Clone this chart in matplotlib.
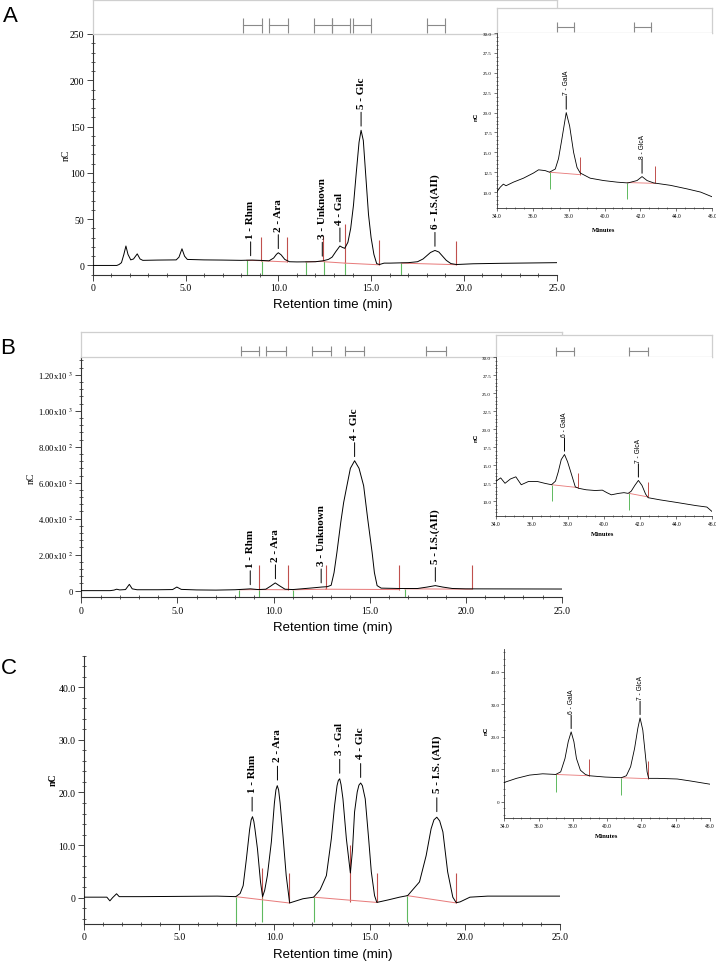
import matplotlib
matplotlib.use('Agg')
import matplotlib.pyplot as plt
from matplotlib.ticker import MultipleLocator, FixedLocator, FixedFormatter

# ------------------------------------------------------------------ DATA
X_TICKS = [0, 5, 10, 15, 20, 25]
X_LABELS = ['0', '5.0', '10.0', '15.0', '20.0', '25.0']
INSET_X_TICKS = [34, 36, 38, 40, 42, 44, 46]
INSET_X_LABELS = ['34.0', '36.0', '38.0', '40.0', '42.0', '44.0', '46.0']

# ---- Panel A main
A_t = [0, 1.3, 1.42, 1.55, 1.68, 1.79, 1.9, 2.05, 2.2, 2.4, 2.55, 2.7, 3.5, 4.5, 4.65, 4.81, 4.95,
       5.1, 6.0, 7.0, 8.0, 8.6, 9.0, 9.5, 9.75, 9.9, 10.0, 10.15, 10.35, 10.6, 11.0, 12.0, 12.4,
       12.7, 12.9, 13.1, 13.32, 13.45, 13.58, 13.75, 13.9, 14.05, 14.2, 14.35, 14.46, 14.58, 14.72,
       14.86, 15.0, 15.15, 15.3, 15.45, 15.7, 16.0, 17.0, 17.5, 17.8, 18.0, 18.2, 18.44, 18.65,
       18.85, 19.05, 19.3, 19.6, 20.5, 22.0, 25.0]
A_y = [0, 0, 1, 3, 12, 21, 12, 6, 7, 12.5, 7, 5.5, 5.8, 6, 9, 18, 10,
       6.5, 6, 5.8, 5.5, 5.8, 5.5, 5, 8, 12, 13.7, 11.5, 6.5, 4, 3.8, 4, 5,
       6.5, 9, 15, 21, 19.5, 18.5, 25, 40, 65, 100, 133, 146, 135, 95,
       55, 30, 12, 2, 1, 2.5, 2.5, 3, 4, 7, 10.5, 14, 16.2, 14.5,
       10, 5.5, 2, 1, 1.8, 2.3, 3]
A_yticks = [0, 50, 100, 150, 200, 250]
A_ylabels = ['0', '50', '100', '150', '200', '250']
A_green_t = [8.30, 9.10, 11.48, 12.46, 13.61, 16.63]
A_green_hi = [5.5, 5.0, 3.8, 4.5, 2.5, 2.5]
A_red_t = [9.07, 10.49, 12.39, 13.59, 15.43, 19.59]
A_red_lo = [5.2, 3.8, 4.5, 2.5, 0.7, 0.8]
A_red_hi = [30.6, 30.6, 32.0, 44.6, 27.0, 26.0]
A_base = [(8.30, 5.5, 9.07, 5.2), (9.10, 5.0, 10.49, 3.8), (11.48, 3.8, 12.39, 4.5),
          (12.46, 4.0, 13.60, 2.5), (13.60, 2.5, 15.43, 0.7), (16.63, 2.5, 19.59, 0.8)]
A_lab_t = [8.51, 10.0, 12.37, 13.32, 14.46, 18.44]
A_lab_y = [6, 13.7, 5.5, 21, 146, 16.2]
A_lab = ['1 - Rhm', '2 - Ara', '3 - Unknown', '4 - Gal', '5 - Glc', '6 - I.S.(AII)']
A_br_s = [8.1, 9.5, 11.9, 12.9, 14.0, 18.0]
A_br_e = [9.1, 10.5, 12.9, 13.85, 15.0, 19.0]

# ---- Panel A inset
AI_t = [34.0, 34.19, 34.37, 34.52, 34.93, 35.49, 36.05, 36.33, 36.7, 36.94, 37.26, 37.44, 37.63,
        37.87, 38.06, 38.28, 38.47, 38.65, 39.2, 39.95, 40.7, 41.3, 41.81, 42.09, 42.37, 42.74,
        43.67, 44.6, 45.35, 46.0]
AI_y = [10.0, 10.6, 11.0, 10.8, 11.25, 11.75, 12.4, 12.8, 12.7, 12.5, 12.9, 14.2, 16.7,
        20.0, 18.3, 15.0, 13.1, 12.4, 11.75, 11.45, 11.25, 11.15, 11.45, 11.95, 11.45, 11.15,
        10.85, 10.4, 10.0, 9.4]
AI_green_t = [36.94, 41.27]
AI_green_lo = [10.33, 9.17]
AI_green_hi = [12.5, 11.15]
AI_red_t = [38.61, 42.8]
AI_red_lo = [12.2, 11.1]
AI_red_hi = [14.45, 13.3]
AI_base = [(36.94, 12.5, 38.61, 12.2), (41.27, 11.2, 42.8, 11.1)]
AI_lab_t = [37.87, 42.09]
AI_lab_y = [20.0, 11.95]
AI_lab = ['7 - GalA', '8 - GlcA']
AI_br_s = [37.35, 41.63]
AI_br_e = [38.33, 42.61]
AB_yticks = [10, 12.5, 15, 17.5, 20, 22.5, 25, 27.5, 30]
AB_ylabels = ['10.0', '12.5', '15.0', '17.5', '20.0', '22.5', '25.0', '27.5', '30.0']

# ---- Panel B main
B_t = [0, 1.5, 1.7, 1.84, 2.0, 2.3, 2.5, 2.65, 2.9, 4.0, 4.75, 4.97, 5.2, 6.0, 7.0, 8.0, 8.5,
       8.8, 9.2, 9.6, 9.85, 10.09, 10.3, 10.6, 11.0, 12.0, 12.5, 12.8, 13.0, 13.15, 13.3, 13.5,
       13.65, 13.82, 14.0, 14.22, 14.45, 14.69, 14.9, 15.13, 15.25, 15.39, 15.6, 16.5, 17.5,
       18.0, 18.42, 18.8, 19.3, 20.0, 25.0]
B_y = [0, 0, 3, 8, 4, 6, 35, 10, 5, 5, 6, 20, 7, 4, 3, 5, 8,
       10, 6, 8, 25, 43, 28, 8, 6, 15, 20, 22, 30, 100, 213, 380,
       490, 583, 680, 722, 680, 583, 400, 213, 100, 28, 14, 12, 12,
       20, 28, 20, 12, 10, 9]
B_yticks = [0, 200, 400, 600, 800, 1000, 1200]
B_ylabels = ['0', r'2.00x10 $^{2}$', r'4.00x10 $^{2}$', r'6.00x10 $^{2}$', r'8.00x10 $^{2}$',
             r'1.00x10 $^{3}$', r'1.20x10 $^{3}$']
B_green_t = [8.23, 9.27, 10.99, 16.82]
B_green_hi = [5, 6, 5, 10]
B_red_t = [9.27, 10.78, 12.71, 16.53, 20.33]
B_red_lo = [6, 5, 8, 6, 8]
B_red_hi = [140, 140, 145, 140, 140]
B_base = [(8.23, 5, 9.27, 6), (9.27, 6, 10.78, 5), (10.99, 5, 12.71, 8),
          (12.71, 8, 16.53, 6), (16.82, 10, 20.33, 8)]
B_lab_t = [8.79, 10.1, 12.48, 14.22, 18.42]
B_lab_y = [10, 43, 20, 722, 28]
B_lab = ['1 - Rhm', '2 - Ara', '3 - Unknown', '4 - Glc', '5 - I.S.(AII)']
B_br_s = [8.30, 9.60, 12.0, 13.7, 17.94]
B_br_e = [9.27, 10.65, 13.0, 14.72, 18.98]

# ---- Panel B inset
BI_t = [34.0, 34.26, 34.5, 34.8, 35.1, 35.4, 35.8, 36.3, 36.7, 37.08, 37.3, 37.45, 37.62, 37.8,
        37.97, 38.15, 38.4, 38.6, 39.0, 39.5, 39.9, 40.15, 40.4, 40.8, 41.1, 41.33, 41.5, 41.7,
        41.9, 42.1, 42.3, 42.44, 43.1, 44.0, 45.1, 45.7, 46.0]
BI_y = [12.8, 13.25, 12.5, 13.1, 13.4, 12.3, 12.75, 12.75, 12.5, 12.3, 12.8, 14.05, 15.8, 16.5,
        15.5, 14.05, 12.0, 11.8, 11.6, 11.5, 11.55, 11.2, 10.9, 11.1, 11.2, 11.1, 11.4, 12.2,
        12.9, 12.2, 11.0, 10.5, 10.2, 9.85, 9.4, 9.2, 8.55]
BI_green_t = [37.09, 41.39]
BI_green_lo = [10.1, 8.8]
BI_green_hi = [12.3, 11.1]
BI_red_t = [38.57, 42.45]
BI_red_lo = [11.9, 10.6]
BI_red_hi = [14.0, 12.65]
BI_base = [(37.09, 12.3, 38.57, 11.9), (41.39, 11.1, 42.45, 10.6)]
BI_lab_t = [37.8, 41.9]
BI_lab_y = [16.5, 12.9]
BI_lab = ['6 - GalA', '7 - GlcA']
BI_br_s = [37.31, 41.39]
BI_br_e = [38.34, 42.41]

# ---- Panel C main
C_t = [0, 1.2, 1.36, 1.5, 1.71, 1.85, 3.0, 5.0, 7.0, 7.97, 8.2, 8.36, 8.53, 8.7, 8.78, 8.85,
       8.92, 8.98, 9.11, 9.27, 9.38, 9.49, 9.63, 9.84, 10.0, 10.08, 10.15, 10.22, 10.3, 10.45,
       10.62, 10.8, 11.5, 12.06, 12.4, 12.73, 12.99, 13.16, 13.29, 13.36, 13.43, 13.5, 13.6,
       13.78, 13.99, 14.1, 14.21, 14.35, 14.44, 14.53, 14.62, 14.77, 14.95, 15.09, 15.26, 15.38,
       16.0, 16.57, 17.0, 17.62, 17.97, 18.23, 18.38, 18.53, 18.68, 18.85, 19.1, 19.37, 19.55,
       19.75, 20.27, 21.2, 25.0]
C_y = [0.1, 0.1, -0.6, 0.0, 0.75, 0.2, 0.2, 0.25, 0.3, 0.2, 0.8, 2.3, 7.4, 13.0, 14.8, 15.4,
       14.5, 13.0, 9.3, 3.0, 0.2, 1.4, 4.2, 10.6, 18.0, 20.5, 21.3, 20.5, 18.0, 11.8,
       4.2, -1.0, -0.2, 0.1, 1.5, 4.2, 11.2, 17.5, 21.3, 22.3, 22.6, 21.5, 18.8,
       11.2, 4.7, 9.0, 16.3, 20.1, 21.4, 21.8, 21.3, 18.8, 11.2, 4.9, 0.4, -0.9,
       -0.4, 0.1, 0.4, 3.0, 8.0, 13.1, 14.8, 15.3, 14.6, 12.5, 4.9, 0.1, -0.95,
       -0.8, 0.1, 0.3, 0.3]
C_yticks = [0, 10, 20, 30, 40]
C_ylabels = ['0', '10.0', '20.0', '30.0', '40.0']
C_green_t = [7.97, 9.37, 12.06, 16.96]
C_green_hi = [0.2, 0.1, 0.1, 0.4]
C_red_t = [9.36, 10.77, 13.95, 15.38, 19.55]
C_red_lo = [0.0, -1.0, -0.8, -0.9, -1.0]
C_red_hi = [5.6, 4.6, 10.1, 4.7, 4.6]
C_base = [(7.97, 0.2, 10.77, -1.0), (12.06, 0.1, 15.38, -0.9), (16.96, 0.4, 19.55, -1.0)]
C_lab_t = [8.83, 10.16, 13.43, 14.53, 18.53]
C_lab_y = [15.4, 21.3, 22.6, 21.8, 15.3]
C_lab = ['1 - Rhm', '2 - Ara', '3 - Gal', '4 - Glc', '5 - I.S. (AII)']

# ---- Panel C inset
CI_t = [34.0, 34.71, 35.47, 36.24, 37.0, 37.29, 37.54, 37.73, 37.9, 38.06, 38.21, 38.44, 38.73,
        38.96, 39.88, 40.83, 41.12, 41.37, 41.6, 41.79, 41.92, 42.08, 42.21, 42.33, 42.42, 42.94,
        44.09, 44.85, 46.0]
CI_y = [5.95, 7.2, 8.2, 8.6, 8.4, 9.2, 13.3, 18.5, 21.5, 18.5, 13.3, 9.7, 8.4,
        8.0, 7.6, 7.4, 8.0, 10.8, 16.4, 22.6, 25.8, 22.05, 15.4, 9.2, 7.2, 7.2,
        7.0, 6.4, 5.4]
CI_green_t = [37.0, 40.83]
CI_green_lo = [2.9, 2.05]
CI_green_hi = [8.4, 7.4]
CI_red_t = [38.96, 42.4]
CI_red_lo = [8.0, 7.1]
CI_red_hi = [13.3, 12.6]
CI_base = [(37.0, 8.4, 38.96, 8.0), (40.83, 7.4, 42.4, 7.1)]
CI_lab_t = [37.9, 41.92]
CI_lab_y = [21.5, 25.8]
CI_lab = ['6 - GalA', '7 - GlcA']
CI_yticks = [0, 10, 20, 30, 40]
CI_ylabels = ['0', '10.0', '20.0', '30.0', '40.0']

# ------------------------------------------------------------------ STYLE
W, H = 716, 962
SERIF = ['Liberation Serif', 'DejaVu Serif']
SANS = ['Liberation Sans', 'DejaVu Sans']
GREEN = '#5fb95f'
RED = '#c0504d'
PINK = '#e87c7c'
BOXC = '#cfcfcf'
BRC = '#8a8a8a'
plt.rcParams['mathtext.fontset'] = 'stix'
plt.rcParams['font.family'] = SERIF

fig = plt.figure(figsize=(7.16, 9.62), dpi=100)


def rect(x0, y0, x1, y1):
    return [x0 / W, 1 - y1 / H, (x1 - x0) / W, (y1 - y0) / H]


def style_axes(ax, xlim, ylim, xt, xl, xminor, yt, yl, yminor, fs, big=True, yfs=None):
    ax.set_xlim(*xlim)
    ax.set_ylim(*ylim)
    ax.xaxis.set_major_locator(FixedLocator(xt))
    ax.xaxis.set_major_formatter(FixedFormatter(xl))
    ax.xaxis.set_minor_locator(MultipleLocator(xminor))
    ax.yaxis.set_major_locator(FixedLocator(yt))
    ax.yaxis.set_major_formatter(FixedFormatter(yl))
    ax.yaxis.set_minor_locator(MultipleLocator(yminor))
    for s in ('top', 'right'):
        ax.spines[s].set_visible(False)
    lw = 0.8 if big else 0.6
    for s in ('left', 'bottom'):
        ax.spines[s].set_linewidth(lw)
        ax.spines[s].set_color('#333333')
    L = 4 if big else 2.5
    ax.tick_params(which='major', direction='out', length=L, width=lw * 0.8, labelsize=fs,
                   pad=2 if big else 1, colors='#333333')
    if yfs is not None:
        ax.tick_params(axis='y', which='major', labelsize=yfs)
    ax.tick_params(which='minor', direction='inout', length=L * 0.6, width=lw * 0.7,
                   colors='#333333')
    for lab in ax.get_xticklabels() + ax.get_yticklabels():
        lab.set_family(SERIF)
        lab.set_color('black')


def draw_trace(ax, t, y, lw=0.7):
    ax.plot(t, y, color='black', lw=lw, zorder=3)


def draw_marks(ax, gt, glo, ghi, rt, rlo, rhi, base, lw=0.8):
    ax.vlines(gt, glo, ghi, colors=GREEN, lw=lw, zorder=2)
    ax.vlines(rt, rlo, rhi, colors=RED, lw=lw, zorder=2)
    for x0, y0, x1, y1 in base:
        ax.plot([x0, x1], [y0, y1], color=PINK, lw=lw * 0.9, zorder=2)


def draw_labels(ax, ts, ys, names, fs, fam, weight, l0, l1, toff):
    for t, y, s in zip(ts, ys, names):
        ax.annotate('', xy=(t, y), xytext=(0, l1), textcoords='offset points',
                    arrowprops=dict(arrowstyle='-', lw=0.7, color='black',
                                    shrinkA=0, shrinkB=l0))
        ax.annotate(s, xy=(t, y), xytext=(0, toff), textcoords='offset points',
                    rotation=90, ha='center', va='bottom', fontsize=fs,
                    family=fam, weight=weight, color='black')


def bracket_box(r, xlim, starts, ends):
    bx = fig.add_axes(r)
    bx.set_xlim(*xlim)
    bx.set_ylim(0, 1)
    bx.set_xticks([])
    bx.set_yticks([])
    for s in bx.spines.values():
        s.set_color(BOXC)
        s.set_linewidth(0.9)
    for s, e in zip(starts, ends):
        bx.plot([s, e], [0.26, 0.26], color=BRC, lw=0.8)
        bx.vlines([s, e], 0.04, 0.46, colors=BRC, lw=0.8)
    return bx


# ------------------------------------------------------------------ PANEL A
axA = fig.add_axes(rect(92.7, 35, 556.7, 275.7))
style_axes(axA, (0, 25), (-10, 250), X_TICKS, X_LABELS, 1, A_yticks, A_ylabels, 10, 7)
draw_trace(axA, A_t, A_y)
draw_marks(axA, A_green_t, -10, A_green_hi, A_red_t, A_red_lo, A_red_hi, A_base)
draw_labels(axA, A_lab_t, A_lab_y, A_lab, 8, SERIF, 'bold', 3, 13, 16)
bracket_box(rect(92.7, 0.5, 556.7, 35), (0, 25), A_br_s, A_br_e)

bAI = bracket_box(rect(496.7, 9.3, 712.3, 34), (34, 46), AI_br_s, AI_br_e)
bAI.set_facecolor('white')
axAI = fig.add_axes(rect(496.7, 34, 712.3, 209))
style_axes(axAI, (34, 46), (8.0, 30.0), INSET_X_TICKS, INSET_X_LABELS, 0.5,
           AB_yticks, AB_ylabels, 0.5, 4.0, big=False, yfs=3.6)
draw_trace(axAI, AI_t, AI_y, lw=0.6)
draw_marks(axAI, AI_green_t, AI_green_lo, AI_green_hi, AI_red_t, AI_red_lo, AI_red_hi,
           AI_base, lw=0.7)
draw_labels(axAI, AI_lab_t, AI_lab_y, AI_lab, 4.8, SANS, 'normal', 2.4, 12, 13.5)

# ------------------------------------------------------------------ PANEL B
axB = fig.add_axes(rect(81.3, 358.3, 561.8, 598.3))
style_axes(axB, (0, 25), (-37, 1297), X_TICKS, X_LABELS, 1, B_yticks, B_ylabels, 40, 7,
           yfs=6.2)
draw_trace(axB, B_t, B_y)
draw_marks(axB, B_green_t, -37, B_green_hi, B_red_t, B_red_lo, B_red_hi, B_base)
draw_labels(axB, B_lab_t, B_lab_y, B_lab, 8, SERIF, 'bold', 3, 13, 16)
bracket_box(rect(81.3, 333.3, 561.8, 358.3), (0, 25), B_br_s, B_br_e)

bBI = bracket_box(rect(496, 335.7, 712.3, 358.3), (34, 46), BI_br_s, BI_br_e)
bBI.set_facecolor('white')
axBI = fig.add_axes(rect(496, 358.3, 712.3, 516.7))
style_axes(axBI, (34, 46), (8.0, 30.0), INSET_X_TICKS, INSET_X_LABELS, 0.5,
           AB_yticks, AB_ylabels, 0.5, 4.0, big=False, yfs=3.6)
draw_trace(axBI, BI_t, BI_y, lw=0.6)
draw_marks(axBI, BI_green_t, BI_green_lo, BI_green_hi, BI_red_t, BI_red_lo, BI_red_hi,
           BI_base, lw=0.7)
draw_labels(axBI, BI_lab_t, BI_lab_y, BI_lab, 4.8, SANS, 'normal', 2.4, 12, 13.5)

# ------------------------------------------------------------------ PANEL C
axC = fig.add_axes(rect(84, 656.7, 560, 925))
style_axes(axC, (0, 25), (-5, 46), X_TICKS, X_LABELS, 1, C_yticks, C_ylabels, 2, 7)
draw_trace(axC, C_t, C_y)
draw_marks(axC, C_green_t, -4.7, C_green_hi, C_red_t, C_red_lo, C_red_hi, C_base)
draw_labels(axC, C_lab_t, C_lab_y, C_lab, 8, SERIF, 'bold', 4, 14, 18)

axCI = fig.add_axes(rect(504.3, 650, 710, 819))
style_axes(axCI, (34, 46), (-5, 47), INSET_X_TICKS, INSET_X_LABELS, 0.5,
           CI_yticks, CI_ylabels, 2, 4.0, big=False, yfs=3.6)
draw_trace(axCI, CI_t, CI_y, lw=0.6)
draw_marks(axCI, CI_green_t, CI_green_lo, CI_green_hi, CI_red_t, CI_red_lo, CI_red_hi,
           CI_base, lw=0.7)
draw_labels(axCI, CI_lab_t, CI_lab_y, CI_lab, 4.8, SANS, 'normal', 2.4, 12, 13.5)

# ------------------------------------------------------------------ TEXTS
def ftext(x, y, s, **kw):
    fig.text(x / W, 1 - y / H, s, ha='center', va='center', **kw)

for (lx, ly, s) in [(10, 17, 'A'), (8, 349, 'B'), (9, 668, 'C')]:
    ftext(lx, ly, s, fontsize=16, family=SANS)
for yy in (305, 628.3, 955):
    ftext(333, yy, 'Retention time (min)', fontsize=9.5, family=SANS)
ftext(66.7, 155, 'nC', fontsize=7, family=SERIF, rotation=90)
ftext(31, 478, 'nC', fontsize=7, family=SERIF, rotation=90)
ftext(53.3, 780, 'nC', fontsize=7, family=SERIF, weight='bold', rotation=90)
ftext(476, 117, 'nC', fontsize=4.5, family=SANS, weight='bold', rotation=90)
ftext(476, 438.3, 'nC', fontsize=4.5, family=SANS, weight='bold', rotation=90)
ftext(486, 730.7, 'nC', fontsize=4.5, family=SANS, weight='bold', rotation=90)
ftext(603.3, 230, 'Minutes', fontsize=4.8, family=SERIF, weight='bold')
ftext(602.7, 535, 'Minutes', fontsize=4.8, family=SERIF, weight='bold')
ftext(606.7, 836.7, 'Minutes', fontsize=4.8, family=SERIF, weight='bold')

fig.savefig('out.png', dpi=100, facecolor='white')
